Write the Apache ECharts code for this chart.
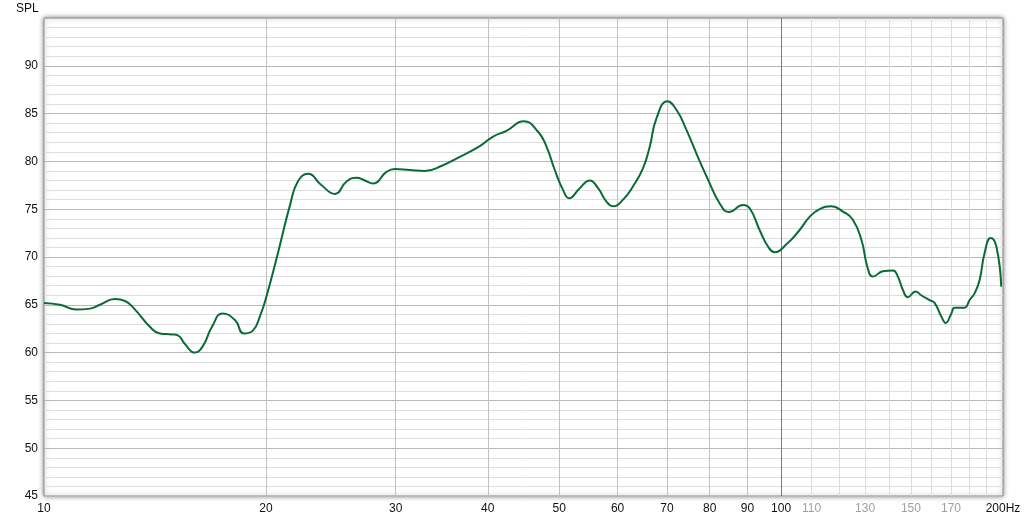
<!DOCTYPE html>
<html>
<head>
<meta charset="utf-8">
<script src="https://cdn.jsdelivr.net/npm/echarts@6/dist/echarts.min.js"></script>
<style>
html,body{margin:0;padding:0;background:#fff;}
#chart{width:1024px;height:521px;}
</style>
</head>
<body>
<div id="chart"></div>
<script>
// Frequency (Hz) and SPL (dB)
var freq = [10.00,10.51,11.07,11.55,11.91,12.48,12.88,13.29,13.92,14.36,14.91,15.19,15.53,16.02,16.43,16.90,17.47,18.16,18.67,19.20,19.63,20.04,20.78,21.56,22.10,22.82,23.80,24.81,25.73,26.55,27.24,27.96,29.15,29.92,31.35,32.85,34.78,36.27,39.02,40.67,42.41,44.76,46.81,48.05,49.31,50.61,51.56,53.32,55.01,56.45,57.95,59.16,61.04,62.97,64.97,66.35,67.75,70.11,72.11,74.40,77.56,79.59,82.55,84.98,88.78,90.66,93.53,95.99,98.02,101.6,105.9,109.3,112.8,117.0,121.3,125.1,128.5,131.1,133.2,137.4,141.8,144.0,146.3,148.6,152.2,154.9,159.0,161.5,164.9,167.2,170.2,171.9,174.6,177.4,180.2,183.0,185.9,188.8,192.4,195.9,198.9];
var spl  = [65.2,65.0,64.5,64.6,65.0,65.6,65.4,64.5,62.7,62.0,61.9,61.8,60.9,60.0,60.7,62.7,64.1,63.4,62.0,62.3,63.8,65.9,70.5,75.4,77.9,78.7,77.5,76.6,77.9,78.3,78.0,77.7,78.9,79.2,79.1,79.0,79.6,80.3,81.6,82.6,83.2,84.2,83.1,81.55,79.1,77.0,76.15,77.2,78.0,77.2,75.8,75.3,76.0,77.4,79.3,81.55,84.5,86.3,85.4,83.3,80.0,78.1,75.6,74.7,75.45,75.1,72.8,71.1,70.5,71.3,72.8,74.2,75.0,75.3,74.75,73.9,71.8,68.8,67.95,68.5,68.6,67.95,66.55,65.8,66.4,66.0,65.5,65.2,63.8,63.1,64.1,64.7,64.7,64.7,65.5,66.2,67.6,70.4,72.0,71.1,66.9];

// Vertical grid lines and their labels
var gridFreqs  = [10,20,30,40,50,60,70,80,90,100,110,120,130,140,150,160,170,180,190,200];
var gridLabels = ['10','20','30','40','50','60','70','80','90','100','110','','130','','150','','170','','','200Hz'];
var yTicks = [45,50,55,60,65,70,75,80,85,90];

var FONT = '"Liberation Sans", Arial, sans-serif';

var markData = gridFreqs.map(function (f, i) {
  var lineColor = f === 100 ? '#7a7a7a' : (f < 100 ? '#c2c2c2' : '#dcdcdc');
  var opacity = (f === 10 || f === 200) ? 0 : 1;
  var labColor = (f > 100 && f < 200) ? '#a0a0a0' : '#111';
  return {
    xAxis: f,
    lineStyle: { color: lineColor, width: 1, type: 'solid', opacity: opacity },
    label: { show: gridLabels[i] !== '', formatter: gridLabels[i], color: labColor, opacity: 1 }
  };
});

var chart = echarts.init(document.getElementById('chart'), null, { renderer: 'canvas' });
chart.setOption({
  animation: false,
  backgroundColor: '#fff',
  title: {
    text: 'SPL', left: 16, top: 3, padding: 0,
    textStyle: { fontSize: 12, fontWeight: 'normal', color: '#111', fontFamily: FONT }
  },
  grid: {
    left: 44, top: 18, width: 959, height: 478,
    show: true, backgroundColor: '#fff',
    borderColor: '#8a8a8a', borderWidth: 1,
    shadowBlur: 5, shadowColor: 'rgba(0,0,0,0.45)', shadowOffsetX: 0, shadowOffsetY: 0
  },
  xAxis: {
    type: 'log', logBase: 10, min: 10, max: 200,
    axisLine: { show: false }, axisTick: { show: false },
    axisLabel: { show: false }, splitLine: { show: false }, minorSplitLine: { show: false }
  },
  yAxis: {
    type: 'value', min: 45, max: 95, interval: 5,
    axisLine: { show: false }, axisTick: { show: false },
    axisLabel: {
      margin: 6, fontSize: 12, color: '#111', fontFamily: FONT,
      formatter: function (v) { return yTicks.indexOf(v) >= 0 ? String(v) : ''; }
    },
    splitLine: { show: true, lineStyle: { color: '#b8b8b8', width: 1 } },
    minorTick: { show: false, splitNumber: 5 },
    minorSplitLine: { show: true, lineStyle: { color: '#dedede', width: 1 } }
  },
  series: [{
    type: 'line',
    data: freq.map(function (f, i) { return [f, spl[i]]; }),
    showSymbol: false,
    smooth: 0.5,
    z: 3,
    lineStyle: { color: '#0a6a38', width: 2 },
    markLine: {
      silent: true, animation: false, z: 1,
      symbol: ['none', 'none'],
      label: { position: 'start', distance: 7, fontSize: 12, fontFamily: FONT },
      emphasis: { disabled: true },
      data: markData
    }
  }]
});
</script>
</body>
</html>
